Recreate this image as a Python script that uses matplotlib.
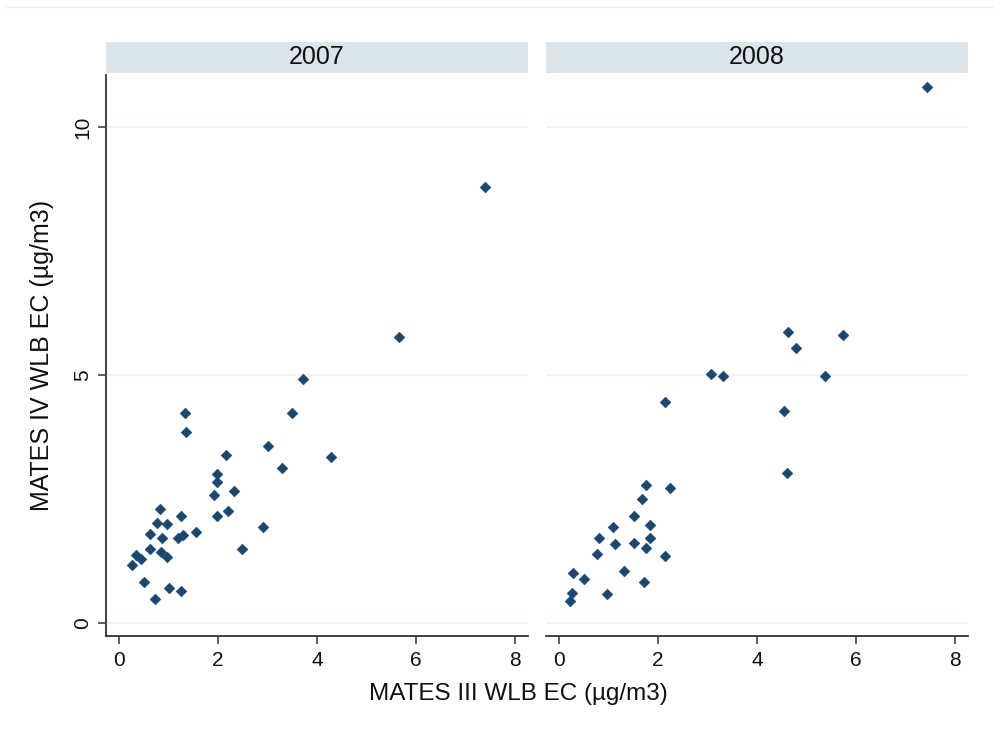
import matplotlib
matplotlib.use("Agg")
import matplotlib.pyplot as plt

plt.rcParams['font.family'] = ['Liberation Sans', 'DejaVu Sans']

# panel titles
years = ['2007', '2008']

# 2007 panel: MATES III (x) vs MATES IV (y)
x07 = [1.33, 1.35, 3.49, 3.72, 3.02, 4.29, 3.30, 2.17, 1.98, 1.98, 1.92, 2.33,
       1.98, 2.21, 2.90, 2.49, 0.83, 0.76, 0.98, 1.26, 0.63, 0.88, 1.20, 1.30,
       1.55, 0.63, 0.85, 0.98, 0.34, 0.44, 0.26, 0.50, 1.01, 1.26, 0.73, 7.40, 5.65]
y07 = [4.23, 3.85, 4.23, 4.92, 3.57, 3.35, 3.12, 3.38, 3.01, 2.84, 2.59, 2.66,
       2.15, 2.25, 1.93, 1.49, 2.31, 2.02, 1.99, 2.15, 1.80, 1.71, 1.71, 1.77,
       1.84, 1.49, 1.43, 1.33, 1.37, 1.30, 1.18, 0.83, 0.70, 0.64, 0.48, 8.80, 5.77]

# 2008 panel
x08 = [2.14, 1.76, 2.24, 1.67, 1.51, 1.10, 1.83, 0.82, 1.83, 1.14, 1.51, 1.76,
       0.76, 2.14, 0.28, 1.32, 0.50, 1.71, 0.26, 0.98, 0.22, 7.43, 4.62, 5.73,
       4.78, 3.08, 3.31, 5.38, 4.54, 4.60]
y08 = [4.45, 2.78, 2.72, 2.50, 2.15, 1.93, 1.97, 1.71, 1.71, 1.59, 1.62, 1.52,
       1.39, 1.36, 1.02, 1.05, 0.89, 0.83, 0.60, 0.58, 0.45, 10.81, 5.87, 5.81,
       5.55, 5.02, 4.99, 4.99, 4.27, 3.03]

xticks = [0, 2, 4, 6, 8]
yticks = [0, 5, 10]

W, H = 995, 729
fig = plt.figure(figsize=(W / 100, H / 100), dpi=100)

navy = '#1a476f'
axcol = '#333333'
grid = '#eaf2f3'
strip = '#d9e4eb'

def box(l, t, r, b):
    return [l / W, 1 - b / H, (r - l) / W, (b - t) / H]

# faint line at the very top of the graph region
fig.add_artist(plt.Line2D([6 / W, 1], [1 - 7 / H, 1 - 7 / H], color='#eeeeee', lw=1))

panels = [(106, 528, x07, y07), (546, 968, x08, y08)]
for i, (l, r, xs, ys) in enumerate(panels):
    ax = fig.add_axes(box(l, 75, r, 636))
    ax.scatter(xs, ys, marker='D', s=30, color=navy, edgecolors=navy, linewidths=0.4, zorder=3)
    ax.set_xlim(-0.26, 8.26)
    ax.set_ylim(-0.26, 11.05)
    ax.set_xticks(xticks)
    ax.set_yticks(yticks)
    ax.grid(axis='y', color=grid, lw=1.2)
    ax.set_axisbelow(True)
    for s in ['top', 'right']:
        ax.spines[s].set_visible(False)
    ax.spines['bottom'].set_color(axcol)
    ax.spines['bottom'].set_linewidth(1.3)
    ax.tick_params(axis='x', length=6, width=1.1, color=axcol, labelsize=15, pad=5,
                   labelcolor='#111111')
    if i == 0:
        ax.spines['left'].set_color(axcol)
        ax.spines['left'].set_linewidth(1.3)
        ax.tick_params(axis='y', length=6, width=1.1, color=axcol, labelsize=15, pad=4,
                       labelcolor='#111111')
        for lab in ax.get_yticklabels():
            lab.set_rotation(90)
            lab.set_va('center')
    else:
        ax.spines['left'].set_visible(False)
        ax.tick_params(axis='y', left=False, labelleft=False)

    # strip with year
    sax = fig.add_axes(box(l, 42, r, 73))
    sax.set_facecolor(strip)
    sax.set_xticks([])
    sax.set_yticks([])
    for s in sax.spines.values():
        s.set_visible(False)
    sax.text(0.5, 0.5, years[i], ha='center', va='center', fontsize=18, color='#111111',
             transform=sax.transAxes)

fig.text(518 / W, 1 - 694 / H, 'MATES III WLB EC (µg/m3)', ha='center', va='center',
         fontsize=17.5, color='#111111')
fig.text(42 / W, 1 - 355 / H, 'MATES IV WLB EC (µg/m3)', ha='center', va='center',
         rotation=90, fontsize=18, color='#111111')

fig.savefig('out.png', dpi=100, facecolor='white')
